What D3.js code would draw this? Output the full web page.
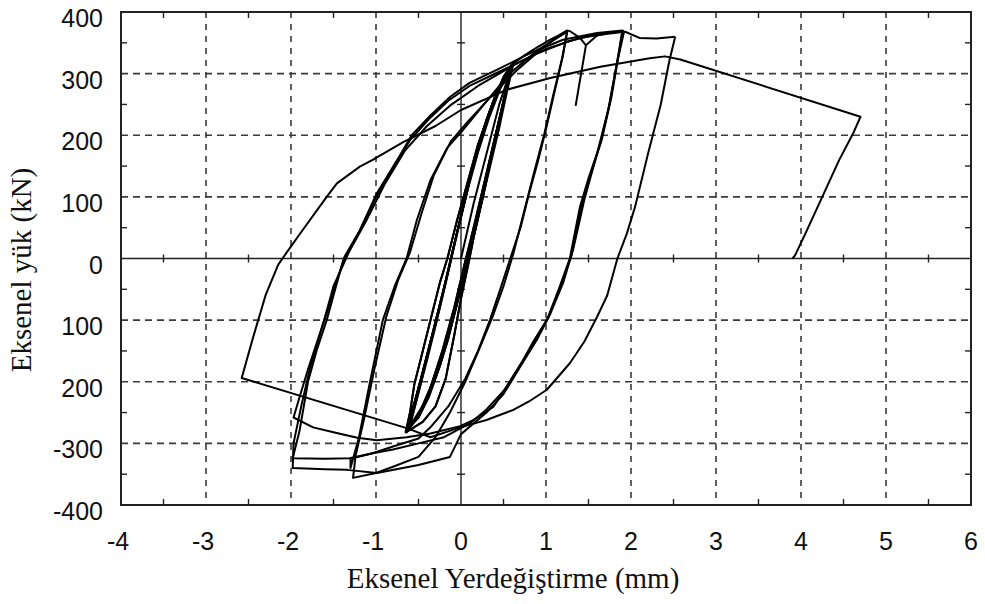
<!DOCTYPE html>
<html>
<head>
<meta charset="utf-8">
<script src="https://cdn.jsdelivr.net/npm/d3@7"></script>
<style>
  body { margin: 0; background: #fff; }
  .tick-label { font-family: "Liberation Sans", Arial, sans-serif; font-size: 25px; fill: #111; }
  .axis-title { font-family: "Liberation Serif", "Times New Roman", serif; font-size: 29px; fill: #111; }
</style>
</head>
<body>
<div id="chart"></div>
<script>
// axis ticks
let xTicks = [-4, -3, -2, -1, 0, 1, 2, 3, 4, 5, 6],
    yTicks = [-400, -300, -200, -100, 0, 100, 200, 300, 400],
    yTickLabels = ["-400", "-300", "200", "100", "0", "100", "200", "300", "400"];

// displacement (mm), load (kN), cycle by cycle
let firstLoad = [[0, 0], [0.15, 90], [0.3, 170], [0.45, 250], [0.6, 312]];

let elasticLoop = [[0.6, 312], [0.5, 255], [0.4, 195], [0.3, 135], [0.2, 70], [0.1, 10], [0.05, -20],
    [-0.05, -75], [-0.15, -130], [-0.25, -175], [-0.38, -225], [-0.5, -258], [-0.65, -280],
    [-0.55, -235], [-0.45, -185], [-0.35, -130], [-0.25, -75], [-0.15, -20], [-0.1, 10],
    [0, 70], [0.1, 130], [0.2, 180], [0.3, 225], [0.42, 270], [0.52, 298], [0.6, 312]];

let elasticLoop2 = [[0.6, 316], [0.52, 262], [0.42, 200], [0.3, 128], [0.18, 60], [0.08, 0],
    [-0.05, -70], [-0.2, -145], [-0.33, -200], [-0.47, -245], [-0.62, -278],
    [-0.52, -228], [-0.4, -165], [-0.3, -110], [-0.18, -40], [-0.08, 20], [0.04, 90],
    [0.16, 160], [0.28, 215], [0.4, 262], [0.5, 295], [0.6, 316]];

let elasticLoop3 = [[0.58, 308], [0.49, 250], [0.38, 185], [0.26, 115], [0.14, 45], [0.04, -10],
    [-0.08, -80], [-0.22, -150], [-0.36, -210], [-0.5, -255], [-0.64, -282],
    [-0.56, -242], [-0.44, -178], [-0.32, -115], [-0.2, -48], [-0.1, 12], [0.02, 80],
    [0.14, 148], [0.26, 205], [0.38, 255], [0.5, 292], [0.58, 308]];

let elasticLoop4 = [[0.62, 318], [0.54, 270], [0.45, 212], [0.34, 148], [0.22, 78], [0.12, 18],
    [0.0, -50], [-0.12, -112], [-0.28, -180], [-0.42, -232], [-0.6, -272],
    [-0.5, -218], [-0.38, -150], [-0.26, -85], [-0.14, -15], [-0.04, 45], [0.08, 112],
    [0.2, 172], [0.33, 228], [0.46, 275], [0.56, 302], [0.62, 318]];

let elasticLoop5 = [[0.6, 314], [0.52, 265], [0.44, 215], [0.35, 160], [0.25, 95], [0.15, 35],
    [0.1, 0], [0.0, -65], [-0.08, -125], [-0.18, -195], [-0.3, -240], [-0.45, -265],
    [-0.65, -282], [-0.6, -250], [-0.55, -205], [-0.45, -150], [-0.35, -95], [-0.25, -40],
    [-0.16, 0], [-0.05, 60], [0.08, 125], [0.2, 185], [0.34, 240], [0.47, 283], [0.6, 314]];

let cycle125a = [[0.6, 315], [0.75, 330], [0.9, 343], [1.05, 355], [1.15, 362], [1.25, 370],
    [1.2, 330], [1.1, 270], [1.0, 210], [0.9, 155], [0.8, 105], [0.7, 50], [0.58, 0], [0.45, -55],
    [0.34, -100], [0.2, -150], [0.05, -195], [-0.15, -240], [-0.36, -274], [-0.5, -292],
    [-0.8, -305], [-1.04, -316], [-1.3, -325], [-1.3, -340],
    [-1.2, -290], [-1.07, -200], [-0.92, -100], [-0.78, -45], [-0.64, 0], [-0.52, 62],
    [-0.36, 127], [-0.16, 180], [0.02, 208], [0.34, 262], [0.58, 301], [0.9, 338], [1.25, 368]];

let cycle125b = [[1.25, 368], [1.19, 325], [1.08, 262], [0.98, 202], [0.86, 140], [0.74, 75],
    [0.62, 10], [0.5, -45], [0.37, -95], [0.22, -145], [0.05, -200], [-0.13, -250],
    [-0.3, -290], [-0.5, -322], [-0.8, -338], [-1.0, -348], [-1.27, -356],
    [-1.24, -320], [-1.14, -260], [-1.02, -180], [-0.88, -95], [-0.74, -35], [-0.6, 10],
    [-0.46, 75], [-0.32, 135], [-0.12, 190], [0.08, 222], [0.4, 270], [0.66, 306],
    [0.93, 338], [1.1, 356], [1.27, 370]];

let cycle19a = [[1.27, 370], [1.4, 358], [1.47, 346], [1.35, 249], [1.47, 346], [1.6, 362],
    [1.78, 368], [1.9, 370],
    [1.85, 330], [1.75, 252], [1.64, 187], [1.5, 130], [1.4, 84], [1.28, 0], [1.15, -50],
    [1.01, -100], [0.85, -135], [0.73, -165], [0.55, -205], [0.38, -241], [0.15, -262],
    [-0.01, -272], [-0.36, -284], [-0.64, -290], [-0.99, -295], [-1.22, -291],
    [-1.5, -282], [-1.74, -274], [-1.97, -258],
    [-1.9, -225], [-1.8, -180], [-1.68, -130], [-1.56, -80], [-1.46, -35],
    [-1.36, 5], [-1.19, 46], [-0.99, 106], [-0.75, 160], [-0.58, 200], [-0.36, 232],
    [-0.13, 262], [0.1, 285], [0.42, 306], [0.81, 333], [1.2, 355], [1.6, 366], [1.9, 370]];

let cycle19b = [[1.9, 370], [1.86, 335], [1.77, 262], [1.66, 195], [1.53, 138], [1.42, 88],
    [1.3, 5], [1.17, -45], [1.03, -95], [0.87, -132], [0.72, -168], [0.52, -212],
    [0.3, -245], [0.1, -268], [-0.2, -290], [-0.5, -300], [-0.8, -310], [-1.04, -316],
    [-1.31, -324], [-1.6, -325], [-1.98, -324],
    [-1.9, -280], [-1.8, -200], [-1.7, -150], [-1.58, -100], [-1.48, -50],
    [-1.38, 0], [-1.2, 42], [-1.0, 100], [-0.77, 155], [-0.6, 192], [-0.38, 226],
    [-0.15, 256], [0.1, 280], [0.45, 303], [0.85, 330], [1.25, 352], [1.6, 364], [1.92, 369]];

let cycle19c = [[1.92, 369], [1.84, 320], [1.73, 240], [1.6, 170], [1.45, 95], [1.32, 15],
    [1.2, -40], [1.05, -90], [0.9, -130], [0.7, -175], [0.5, -220], [0.3, -250],
    [0.0, -285], [-0.13, -322], [-0.5, -335], [-0.99, -348], [-1.34, -343], [-1.6, -342],
    [-1.98, -340], [-1.97, -300], [-1.88, -240], [-1.78, -180], [-1.6, -95], [-1.5, -45],
    [-1.32, 10], [-1.12, 60], [-0.9, 120], [-0.66, 175], [-0.4, 215], [-0.13, 248],
    [0.2, 280], [0.6, 312], [1.0, 340], [1.4, 358], [1.75, 365], [1.93, 368],
    [2.1, 358], [2.3, 357], [2.52, 360]];

let cycle25 = [[2.52, 360], [2.45, 320], [2.35, 250], [2.2, 170], [2.05, 85], [1.95, 40],
    [1.84, 0], [1.72, -60], [1.6, -95], [1.45, -135], [1.28, -170], [1.01, -213],
    [0.8, -232], [0.61, -246], [0.3, -262], [-0.01, -274], [-0.36, -290], [-0.62, -276]];

let finalPush = [[-0.62, -276], [-2.58, -194], [-2.45, -130], [-2.3, -60], [-2.15, -10],
    [-2.05, 10], [-1.89, 41], [-1.58, 100], [-1.46, 122], [-1.19, 149], [-1.04, 160],
    [-0.68, 189], [-0.3, 215], [0, 241], [0.54, 274], [1.05, 293], [1.64, 311],
    [2.22, 325], [2.4, 328], [2.58, 323], [4.7, 230], [4.62, 205], [4.45, 160],
    [4.25, 100], [4.05, 40], [3.93, 5], [3.9, 0]];

let cycles = [firstLoad, elasticLoop, elasticLoop2, elasticLoop3, elasticLoop4, elasticLoop5,
    elasticLoop, elasticLoop3, elasticLoop5, cycle125a, cycle125b, cycle19a, cycle19b, cycle19c,
    cycle25, finalPush];

let W = 985, H = 604,
    plot = { left: 121, right: 971, top: 12, bottom: 505 };

let svg = d3.select("#chart").append("svg")
    .attr("width", W)
    .attr("height", H);

let x = d3.scaleLinear().domain([-4, 6]).range([plot.left, plot.right]);
let y = d3.scaleLinear().domain([-400, 400]).range([plot.bottom, plot.top]);

// dashed grid
svg.append("g").selectAll("line")
    .data(xTicks.filter(function (d) { return d !== -4 && d !== 6 && d !== 0; }))
    .enter().append("line")
    .attr("x1", function (d) { return x(d); })
    .attr("x2", function (d) { return x(d); })
    .attr("y1", plot.top)
    .attr("y2", plot.bottom)
    .attr("stroke", "#3a3a3a")
    .attr("stroke-width", 1.6)
    .attr("stroke-dasharray", "6,6");

svg.append("g").selectAll("line")
    .data(yTicks.filter(function (d) { return Math.abs(d) !== 400 && d !== 0; }))
    .enter().append("line")
    .attr("x1", plot.left)
    .attr("x2", plot.right)
    .attr("y1", function (d) { return y(d); })
    .attr("y2", function (d) { return y(d); })
    .attr("stroke", "#3a3a3a")
    .attr("stroke-width", 1.6)
    .attr("stroke-dasharray", "7,5");

// zero lines with their small ticks
svg.append("line")
    .attr("x1", plot.left).attr("x2", plot.right)
    .attr("y1", y(0)).attr("y2", y(0))
    .attr("stroke", "#222").attr("stroke-width", 1.4);
svg.append("line")
    .attr("x1", x(0)).attr("x2", x(0))
    .attr("y1", plot.top).attr("y2", plot.bottom)
    .attr("stroke", "#222").attr("stroke-width", 1.4);

let halfX = d3.range(-3.5, 6, 1),
    halfY = [-350, -250, -150, -50, 50, 150, 250, 350];

svg.append("g").selectAll("line")
    .data(halfX)
    .enter().append("line")
    .attr("x1", function (d) { return x(d); })
    .attr("x2", function (d) { return x(d); })
    .attr("y1", y(0) - 4).attr("y2", y(0) + 4)
    .attr("stroke", "#222").attr("stroke-width", 1.4);
svg.append("g").selectAll("line")
    .data(halfY)
    .enter().append("line")
    .attr("x1", x(0) - 4).attr("x2", x(0) + 4)
    .attr("y1", function (d) { return y(d); })
    .attr("y2", function (d) { return y(d); })
    .attr("stroke", "#222").attr("stroke-width", 1.4);

// inner minor ticks on the frame
let tickLen = 6;
let frameTicks = svg.append("g").attr("stroke", "#222").attr("stroke-width", 1.4);
halfX.forEach(function (d) {
    frameTicks.append("line").attr("x1", x(d)).attr("x2", x(d)).attr("y1", plot.bottom).attr("y2", plot.bottom - tickLen);
    frameTicks.append("line").attr("x1", x(d)).attr("x2", x(d)).attr("y1", plot.top).attr("y2", plot.top + tickLen);
});
halfY.forEach(function (d) {
    frameTicks.append("line").attr("x1", plot.left).attr("x2", plot.left + tickLen).attr("y1", y(d)).attr("y2", y(d));
    frameTicks.append("line").attr("x1", plot.right).attr("x2", plot.right - tickLen).attr("y1", y(d)).attr("y2", y(d));
});

// the curves
let line = d3.line()
    .x(function (d) { return x(d[0]); })
    .y(function (d) { return y(d[1]); });

svg.append("g").selectAll("path")
    .data(cycles)
    .enter().append("path")
    .attr("d", line)
    .attr("fill", "none")
    .attr("stroke", "#000")
    .attr("stroke-width", 2)
    .attr("stroke-linejoin", "round");

// frame
svg.append("rect")
    .attr("x", plot.left).attr("y", plot.top)
    .attr("width", plot.right - plot.left)
    .attr("height", plot.bottom - plot.top)
    .attr("fill", "none")
    .attr("stroke", "#222")
    .attr("stroke-width", 2);

// tick labels
svg.append("g").selectAll("text")
    .data(yTicks)
    .enter().append("text")
    .attr("class", "tick-label")
    .attr("x", 103)
    .attr("y", function (d) { return y(d) + 6; })
    .attr("dy", "0.36em")
    .style("text-anchor", "end")
    .text(function (d, i) { return yTickLabels[i]; });

svg.append("g").selectAll("text")
    .data(xTicks)
    .enter().append("text")
    .attr("class", "tick-label")
    .attr("x", function (d) { return x(d) - (d < 0 ? 3 : 0); })
    .attr("y", 550)
    .style("text-anchor", "middle")
    .text(function (d) { return d; });

// axis titles
svg.append("text")
    .attr("class", "axis-title")
    .attr("x", 513)
    .attr("y", 588)
    .style("text-anchor", "middle")
    .text("Eksenel Yerdeğiştirme (mm)");

svg.append("text")
    .attr("class", "axis-title")
    .attr("transform", "translate(31,270) rotate(-90)")
    .style("text-anchor", "middle")
    .text("Eksenel yük (kN)");
</script>
</body>
</html>
